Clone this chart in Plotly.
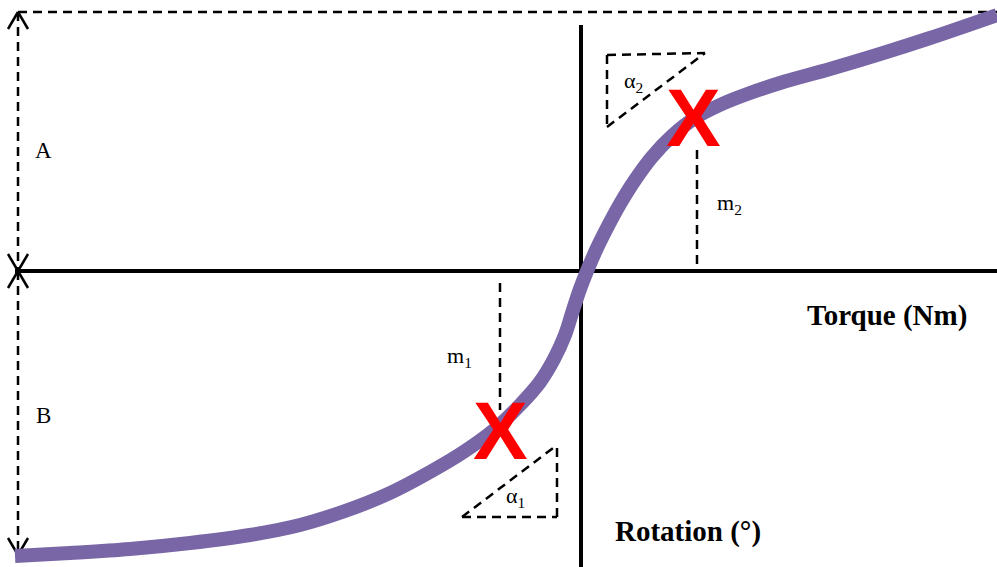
import plotly.graph_objects as go

# Torque-rotation characteristic (diagram units, origin at the axis crossing)
torque = [-566, -511, -451, -391, -331, -281, -236, -191, -151, -116, -86, -61,
          -41, -27, -16, -8, -1, 6, 16, 27, 39, 54, 71, 91, 114, 141, 169, 199,
          249, 299, 349, 416]
rotation = [-285, -282, -278, -272, -264, -254, -240, -222, -201, -180, -158, -134,
            -111, -88, -64, -39, -18, 0, 23, 45, 67, 91, 114, 135, 153, 167, 178, 188,
            202, 217, 233, 256]

# Marked operating points (X) and the dimension values
points_torque = [-81, 112]
points_rotation = [-159, 154]
A_level = 259
B_level = -284

X_RANGE = [-581, 416]
Y_RANGE = [-296, 271]

CURVE = "#7866a6"
BLACK = "#000000"
SERIF = "Liberation Serif, Times New Roman, serif"

fig = go.Figure()

fig.add_trace(go.Scatter(
    x=torque, y=rotation, mode="lines",
    line=dict(color=CURVE, width=14, shape="spline", smoothing=1.0),
    hoverinfo="skip", showlegend=False,
))

shapes = []


def seg(x0, y0, x1, y1, width=2.5, dash=None, color=BLACK):
    line = dict(color=color, width=width)
    if dash:
        line["dash"] = dash
    shapes.append(dict(type="line", xref="x", yref="y", x0=x0, y0=y0, x1=x1, y1=y1,
                       line=line, layer="below"))


DASH = "9px,6px"

# main axes
seg(X_RANGE[0] + 15, 0, X_RANGE[1], 0, width=4)
seg(0, 246, 0, Y_RANGE[0], width=4)

# dimension A / B
xl = -563
seg(xl, A_level, X_RANGE[1], A_level, dash=DASH)
seg(xl, A_level, xl, 0, dash=DASH)
seg(xl, 0, xl, B_level, dash=DASH)
for tip, d in [(A_level, -1), (0, 1), (0, -1), (B_level, 1)]:
    seg(xl - 10, tip + d * 17, xl, tip, width=2.5)
    seg(xl + 10, tip + d * 17, xl, tip, width=2.5)

# m1 / m2 verticals
seg(points_torque[1] + 4, 121, points_torque[1] + 4, 0, dash=DASH)
seg(points_torque[0], -12, points_torque[0], -139, dash=DASH)

# slope triangles
seg(26, 216, 124, 218, dash=DASH)
seg(26, 216, 26, 144, dash=DASH)
seg(26, 144, 124, 218, dash=DASH)
seg(-119, -246, -24, -246, dash=DASH)
seg(-24, -246, -24, -174, dash=DASH)
seg(-119, -246, -24, -174, dash=DASH)

annotations = []


def label(x, y, text, size=22, bold=False, color=BLACK, family=SERIF):
    annotations.append(dict(
        x=x, y=y, xref="x", yref="y", text=f"<b>{text}</b>" if bold else text,
        showarrow=False, xanchor="center", yanchor="middle",
        font=dict(family=family, size=size, color=color),
    ))


label(-538, 121, "A", size=23)
label(-538, -144, "B", size=23)
label(148, 67, "m<sub>2</sub>", size=22)
label(-122, -86, "m<sub>1</sub>", size=22)
label(52, 189, "α<sub>2</sub>", size=22)
label(-66, -226, "α<sub>1</sub>", size=22)
label(306, -44, "Torque (Nm)", size=29, bold=True)
label(107, -260, "Rotation (°)", size=29, bold=True)

for px, py in zip(points_torque, points_rotation):
    label(px, py, "X", size=82, bold=True, color="#ff0000",
          family="Liberation Sans, Arial, sans-serif")

fig.update_layout(
    width=997, height=567,
    margin=dict(l=0, r=0, t=0, b=0),
    paper_bgcolor="white", plot_bgcolor="white",
    xaxis=dict(range=X_RANGE, visible=False, fixedrange=True),
    yaxis=dict(range=Y_RANGE, visible=False, fixedrange=True),
    shapes=shapes, annotations=annotations,
    showlegend=False,
)

fig.write_html("out.html")
